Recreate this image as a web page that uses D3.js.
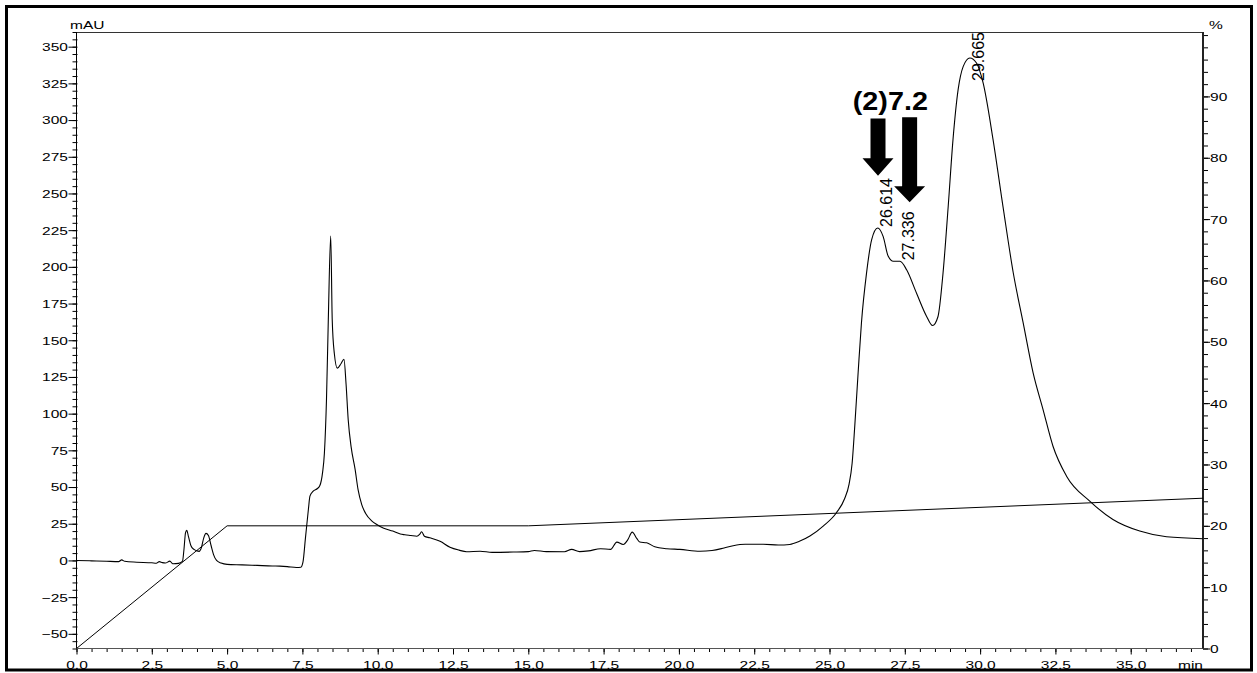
<!DOCTYPE html>
<html>
<head>
<meta charset="utf-8">
<script src="https://cdn.jsdelivr.net/npm/d3@7"></script>
<style>
body { margin: 0; background: #fff; }
svg { display: block; font-family: "Liberation Sans", Arial, sans-serif; }
</style>
</head>
<body>
<svg id="vis" width="1257" height="673"></svg>
<script>
// chromatogram trace (min / mAU)
var traceTime = [0, 0.5, 1.0, 1.4, 1.5, 1.6, 2.0, 2.5, 2.65, 2.75, 2.85, 2.95, 3.1, 3.2, 3.3, 3.45,
    3.52, 3.57, 3.62, 3.66, 3.72, 3.8, 3.9, 4.0, 4.07, 4.15, 4.22, 4.3, 4.38, 4.47, 4.55, 4.65, 4.8,
    5.0, 5.5, 6.0, 6.5, 6.75, 7.0, 7.3, 7.45, 7.52, 7.6, 7.7, 7.75, 7.86, 8.0, 8.08, 8.17, 8.23, 8.3,
    8.36, 8.44, 8.49, 8.56, 8.66, 8.78, 8.88, 8.95, 9.02, 9.12, 9.25, 9.35, 9.47, 9.6, 9.8, 9.97,
    10.2, 10.5, 10.75, 10.9, 11.1, 11.3, 11.4, 11.46, 11.55, 11.73, 12.07, 12.4, 12.7, 12.95, 13.4,
    13.8, 14.5, 15.0, 15.2, 15.6, 16.2, 16.44, 16.7, 17.0, 17.4, 17.73, 17.94, 18.15, 18.3, 18.45,
    18.6, 18.7, 18.93, 19.2, 19.6, 20.03, 20.7, 21.1, 21.5, 21.8, 22.2, 22.8, 23.3, 23.68, 24.0,
    24.35, 24.79, 25.23, 25.5, 25.65, 25.75, 25.84, 25.95, 26.06, 26.23, 26.4, 26.6, 26.78, 26.95, 27.12,
    27.34, 27.56, 27.89, 28.22, 28.42, 28.6, 28.77, 28.94, 29.1, 29.27, 29.44, 29.66, 29.88, 30.1,
    30.43, 30.76, 31.1, 31.43, 31.76, 32.09, 32.42, 32.87, 33.64, 34.41, 35.3, 36.19, 37.4];
var traceMAU = [0, -0.3, -0.6, -0.8, 0.4, -0.6, -1.2, -1.6, -1.9, -0.8, -1.5, -1.8, -0.5, -2.3, -2.2, -1.5,
    -0.5, 8, 19, 20.5, 16, 10, 7.5, 6.5, 6.2, 9, 15, 18.4, 17, 10, 4, 0, -1.8,
    -2.7, -3.0, -3.4, -3.8, -3.9, -4.2, -4.8, -4.6, -1, 15, 35, 43.8, 47.2, 49, 51, 60, 73, 110,
    164, 221, 164, 141, 131, 134, 137, 120, 96, 77, 62, 48, 38, 32, 27, 24.5,
    22, 20, 18, 17.5, 17, 16.5, 18, 19.5, 16.5, 15.4, 13, 9, 7, 5.9, 6.3,
    5.5, 5.7, 6.0, 6.8, 6.0, 5.9, 7.5, 6.0, 6.5, 8, 7.5, 12.5, 10.9, 14, 19.3,
    15, 12.5, 12, 9.3, 8, 7.5, 6.3, 6.8, 8.5, 10, 11, 11, 10.5, 10.9, 13,
    16.6, 23.4, 32.5, 42, 52, 66, 92, 127.8, 161.8, 195.9, 218.6, 226.5, 220.8, 207.2, 203.8,
    203.8, 198, 182, 166.4, 160, 166, 196, 241, 286.7, 320.7, 336.6, 342.3, 338.9, 325.3,
    286.7, 241, 196, 161.8, 127.8, 102.8, 77.8, 57.4, 40.4, 27.9, 20, 16.1, 14.8];

// gradient program (min / %)
var gradTime = [0, 5, 15, 37.4];
var gradPct = [0, 20, 20, 24.5];

// peak labels
var peakTimes = [26.614, 27.336, 29.665];
var peakLabels = ["26.614", "27.336", "29.665"];
var peakMAU = [226.5, 203.8, 342.3];

// annotation arrows (min / mAU)
var arrowTimes = [26.61, 27.66];
var arrowTop = [301, 302];
var arrowHeadBase = [274, 255];
var arrowTip = [262, 244];
var noteText = "(2)7.2";
var noteTime = 27.02;
var noteMAU = 307;

// ticks
var xTicks = [0, 2.5, 5, 7.5, 10, 12.5, 15, 17.5, 20, 22.5, 25, 27.5, 30, 32.5, 35];
var yTicks = [-50, -25, 0, 25, 50, 75, 100, 125, 150, 175, 200, 225, 250, 275, 300, 325, 350];
var pctTicks = [0, 10, 20, 30, 40, 50, 60, 70, 80, 90];

// layout
var plotLeft = 76.5, plotRight = 1203, plotTop = 32, plotBottom = 648.5;
var stretch = 1.35;

var x = d3.scaleLinear().domain([0, 37.4]).range([plotLeft, plotRight]);
var y = d3.scaleLinear().domain([-60, 360]).range([plotBottom, plotTop]);
var yPct = d3.scaleLinear().domain([0, 100.5]).range([plotBottom, plotTop]);

var vis = d3.select("#vis");

// outer frame
vis.append("rect")
    .attr("x", 6.5).attr("y", 6.5)
    .attr("width", 1245).attr("height", 663.5)
    .attr("fill", "none").attr("stroke", "#000").attr("stroke-width", 3);

vis.append("clipPath").attr("id", "plot-clip")
    .append("rect")
    .attr("x", plotLeft).attr("y", plotTop)
    .attr("width", plotRight - plotLeft).attr("height", plotBottom - plotTop);

// minor ticks
vis.append("g")
    .attr("transform", "translate(0," + plotBottom + ")")
    .call(d3.axisBottom(x).tickValues(d3.range(0, 37.01, 0.5)).tickSize(3.5).tickFormat(""))
    .call(function (g) { g.select(".domain").remove(); });
vis.append("g")
    .attr("transform", "translate(" + (plotLeft + 1) + ",0)")
    .call(d3.axisLeft(y).tickValues(d3.range(-60, 360.1, 5)).tickSize(5).tickFormat(""))
    .call(function (g) { g.select(".domain").remove(); });
vis.append("g")
    .attr("transform", "translate(" + plotRight + ",0)")
    .call(d3.axisRight(yPct).tickValues(d3.range(0, 100.1, 2)).tickSize(5).tickFormat(""))
    .call(function (g) { g.select(".domain").remove(); });

// major ticks + labels
var gx = vis.append("g")
    .attr("transform", "translate(0," + plotBottom + ")")
    .call(d3.axisBottom(x).tickValues(xTicks).tickSize(6).tickFormat(d3.format(".1f")));
gx.select(".domain").remove();
gx.selectAll("text")
    .attr("y", 20.5).attr("dy", 0)
    .attr("transform", "scale(" + stretch + ",1)");

var gy = vis.append("g")
    .attr("transform", "translate(" + plotLeft + ",0)")
    .call(d3.axisLeft(y).tickValues(yTicks).tickSize(8));
gy.select(".domain").remove();
gy.selectAll("text")
    .attr("x", 0).attr("dy", "0.34em")
    .attr("transform", "translate(-8.5,0) scale(" + stretch + ",1)");

var gp = vis.append("g")
    .attr("transform", "translate(" + plotRight + ",0)")
    .call(d3.axisRight(yPct).tickValues(pctTicks).tickSize(7));
gp.select(".domain").remove();
gp.selectAll("text")
    .attr("x", 0).attr("dy", "0.34em")
    .attr("transform", "translate(7,0) scale(" + stretch + ",1)");

vis.selectAll(".tick text")
    .style("font-family", "'Liberation Sans', Arial, sans-serif")
    .style("font-size", "11.5px")
    .attr("fill", "#000");
vis.selectAll(".tick line").attr("stroke", "#000");

// plot frame
vis.append("line").attr("x1", plotLeft).attr("x2", plotRight).attr("y1", plotTop + 0.5).attr("y2", plotTop + 0.5)
    .attr("stroke", "#333").attr("stroke-width", 1);
vis.append("line").attr("x1", plotLeft).attr("x2", plotRight).attr("y1", plotBottom).attr("y2", plotBottom)
    .attr("stroke", "#555").attr("stroke-width", 1.2);
vis.append("line").attr("x1", plotLeft).attr("x2", plotLeft).attr("y1", plotTop).attr("y2", plotBottom)
    .attr("stroke", "#000").attr("stroke-width", 1);
vis.append("line").attr("x1", plotRight).attr("x2", plotRight).attr("y1", plotTop).attr("y2", plotBottom)
    .attr("stroke", "#222").attr("stroke-width", 2);

// axis titles
function stretchedText(tx, ty, str, anchor) {
    vis.append("text")
        .attr("transform", "translate(" + tx + "," + ty + ") scale(" + stretch + ",1)")
        .attr("text-anchor", anchor)
        .style("font-size", "11.5px")
        .text(str);
}
stretchedText(70, 28.5, "mAU", "start");
stretchedText(1209, 28.5, "%", "start");
stretchedText(1203, 669, "min", "end");

// gradient line
var gradData = gradTime.map(function (t, i) { return {t: t, v: gradPct[i]}; });
vis.append("path")
    .datum(gradData)
    .attr("clip-path", "url(#plot-clip)")
    .attr("fill", "none")
    .attr("stroke", "#000")
    .attr("stroke-width", 1)
    .attr("d", d3.line()
        .x(function (d) { return x(d.t); })
        .y(function (d) { return yPct(d.v); }));

// trace
var traceData = traceTime.map(function (t, i) { return {t: t, v: traceMAU[i]}; });
vis.append("path")
    .datum(traceData)
    .attr("clip-path", "url(#plot-clip)")
    .attr("fill", "none")
    .attr("stroke", "#000")
    .attr("stroke-width", 1.1)
    .attr("d", d3.line()
        .curve(d3.curveMonotoneX)
        .x(function (d) { return x(d.t); })
        .y(function (d) { return y(d.v); }));

// peak labels, rotated, pushed down if they would leave the plot
peakTimes.forEach(function (t, i) {
    var lbl = vis.append("text")
        .style("font-size", "16px")
        .text(peakLabels[i]);
    var len = lbl.node().getComputedTextLength();
    var ly = Math.max(y(peakMAU[i]) - 1, plotTop + len);
    lbl.attr("transform", "translate(" + (x(t) + 14) + "," + ly + ") rotate(-90)");
});

// arrows
arrowTimes.forEach(function (t, i) {
    var cx = x(t), yt = y(arrowTop[i]), yb = y(arrowHeadBase[i]), yp = y(arrowTip[i]);
    var p = d3.path();
    p.moveTo(cx - 7.5, yt);
    p.lineTo(cx + 7.5, yt);
    p.lineTo(cx + 7.5, yb);
    p.lineTo(cx + 15.5, yb);
    p.lineTo(cx, yp);
    p.lineTo(cx - 15.5, yb);
    p.lineTo(cx - 7.5, yb);
    p.closePath();
    vis.append("path").attr("d", p.toString()).attr("fill", "#000");
});

vis.append("text")
    .attr("transform", "translate(" + x(noteTime) + "," + y(noteMAU) + ") scale(1.15,1)")
    .attr("text-anchor", "middle")
    .style("font-size", "25px")
    .style("font-weight", "bold")
    .text(noteText);
</script>
</body>
</html>
